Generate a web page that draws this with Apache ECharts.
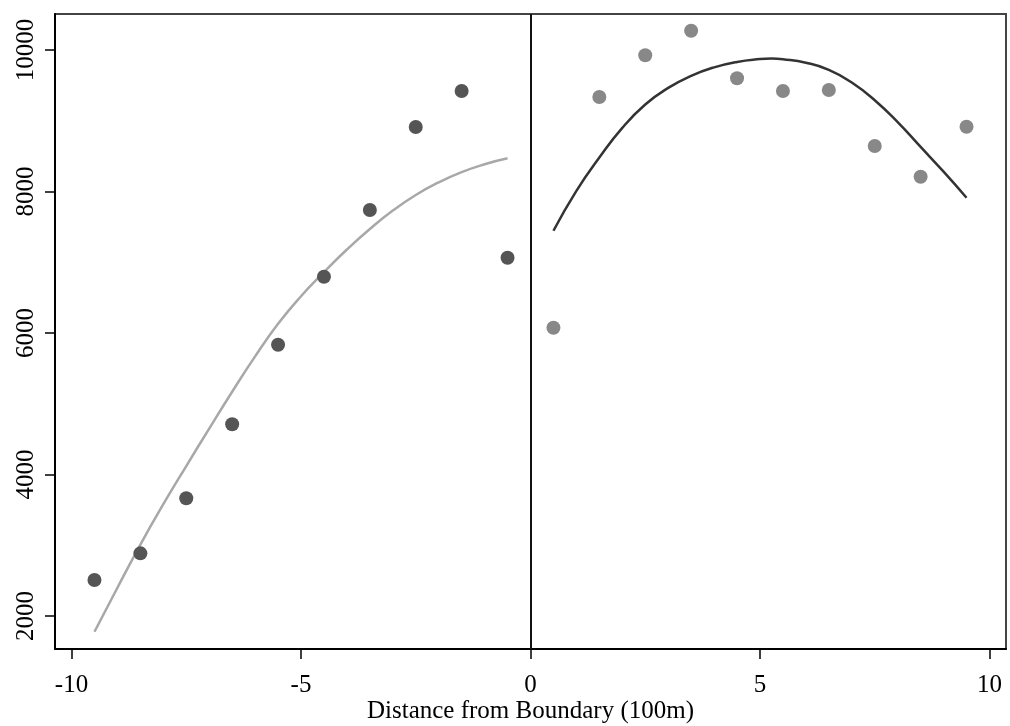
<!DOCTYPE html>
<html>
<head>
<meta charset="utf-8">
<script src="https://cdn.jsdelivr.net/npm/echarts@6/dist/echarts.min.js"></script>
<style>html,body{margin:0;padding:0;background:#fff;}#c{width:1010px;height:726px;}</style>
</head>
<body>
<div id="c"></div>
<script>
// Binned means, left of boundary
const leftX = [-9.5, -8.5, -7.5, -6.5, -5.5, -4.5, -3.5, -2.5, -1.5, -0.5];
const leftY = [2509, 2886, 3664, 4710, 5835, 6796, 7739, 8912, 9420, 7064];
// Binned means, right of boundary
const rightX = [0.5, 1.5, 2.5, 3.5, 4.5, 5.5, 6.5, 7.5, 8.5, 9.5];
const rightY = [6075, 9336, 9925, 10273, 9600, 9420, 9435, 8643, 8209, 8916];
// Fitted curves (at half-unit steps)
const leftFitX = [-9.5, -9, -8.5, -8, -7.5, -7, -6.5, -6, -5.5, -5, -4.5, -4, -3.5, -3, -2.5, -2, -1.5, -1, -0.5];
const leftFitY = [1778, 2400, 3010, 3580, 4120, 4650, 5170, 5670, 6130, 6520, 6860, 7180, 7470, 7730, 7950, 8130, 8275, 8385, 8469];
const rightFitX = [0.5, 1, 1.5, 2, 2.5, 3, 3.5, 4, 4.5, 5, 5.25, 5.5, 6, 6.5, 7, 7.5, 8, 8.5, 9, 9.5];
const rightFitY = [7446, 8010, 8480, 8900, 9230, 9465, 9635, 9755, 9832, 9872, 9880, 9870, 9820, 9720, 9540, 9290, 8980, 8630, 8280, 7912];
// Tick labels
const xTicks = [-10, -5, 0, 5, 10];
const yTicks = [2000, 4000, 6000, 8000, 10000];
const xTitle = 'Distance from Boundary (100m)';

const zip = (a, b) => a.map((v, i) => [v, b[i]]);
const font = 'Liberation Serif, Times New Roman, serif';

const chart = echarts.init(document.getElementById('c'));
chart.setOption({
  animation: false,
  backgroundColor: '#fff',
  grid: { left: 55, right: 4, top: 14, bottom: 77, outerBoundsMode: 'none', containLabel: false,
    show: true, borderColor: '#444', borderWidth: 2, backgroundColor: '#fff' },
  xAxis: {
    type: 'value', min: -10.36, max: 10.36,
    name: xTitle, nameLocation: 'middle', nameGap: 50, nameMoveOverlap: false,
    nameTextStyle: { fontFamily: font, fontSize: 25, color: '#000' },
    splitLine: { show: false },
    axisLine: { show: true, onZero: false, lineStyle: { color: '#000', width: 2 } },
    axisTick: { show: true, length: 10, customValues: xTicks, lineStyle: { color: '#000', width: 1.5 } },
    axisLabel: { customValues: xTicks, fontFamily: font, fontSize: 25, color: '#000', margin: 24 }
  },
  yAxis: {
    type: 'value', min: 1534, max: 10509,
    splitLine: { show: false },
    axisLine: { show: true, onZero: false, lineStyle: { color: '#000', width: 2 } },
    axisTick: { show: true, length: 10, customValues: yTicks, lineStyle: { color: '#000', width: 1.5 } },
    axisLabel: { customValues: yTicks, rotate: 90, fontFamily: font, fontSize: 25, color: '#000', margin: 16,
      formatter: v => String(v) }
  },
  series: [
    {
      type: 'line', data: zip(leftFitX, leftFitY), smooth: true, showSymbol: false,
      lineStyle: { color: '#a8a8a8', width: 2.5 }, z: 2,
      markLine: {
        silent: true, symbol: 'none', label: { show: false },
        lineStyle: { color: '#111', width: 2, type: 'solid' },
        data: [{ xAxis: 0 }]
      }
    },
    {
      type: 'line', data: zip(rightFitX, rightFitY), smooth: true, showSymbol: false,
      lineStyle: { color: '#333', width: 2.5 }, z: 2
    },
    {
      type: 'scatter', data: zip(leftX, leftY), symbolSize: 14,
      itemStyle: { color: '#555', opacity: 1 }, z: 3
    },
    {
      type: 'scatter', data: zip(rightX, rightY), symbolSize: 14,
      itemStyle: { color: '#888', opacity: 1 }, z: 3
    }
  ]
});
</script>
</body>
</html>
